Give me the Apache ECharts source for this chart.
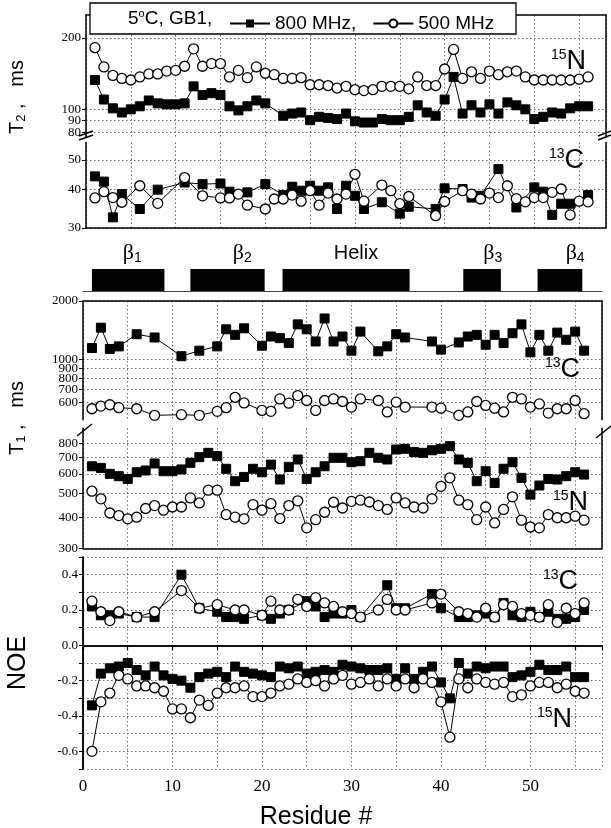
<!DOCTYPE html>
<html><head><meta charset="utf-8">
<script src="https://cdn.jsdelivr.net/npm/echarts@6/dist/echarts.min.js"></script>
<style>html,body{margin:0;padding:0;background:#fff}#c{width:611px;height:828px}</style>
</head><body><div id="c"></div>
<script>
// ---------- data ----------
const residues = [1,2,3,4,5,6,7,8,9,10,11,12,13,14,15,16,17,18,19,20,21,22,23,24,25,26,27,28,29,30,31,32,33,34,35,36,37,38,39,40,41,42,43,44,45,46,47,48,49,50,51,52,53,54,55,56];
const seriesNames = ['800 MHz', '500 MHz'];

// T2 (ms), 15N
const t2N800 = [133,110,101,97,100,103,109,106,105,105,106,125,115,117,115,103,99,103,109,106,null,94,96,97,90,93,92,91,96,89,88,88,91,90,90,93,104,97,94,110,137,96,104,97,105,96,107,104,100,91,93,97,96,101,103,103];
const t2N500 = [182,151,139,135,133,137,141,141,145,146,152,180,152,156,156,137,146,136,151,142,140,135,135,136,127,127,126,123,125,121,120,121,125,125,125,122,137,126,126,148,179,135,144,135,145,140,144,145,137,133,133,133,133,133,134,137];
// T2 (ms), 13C
const t2C800 = [44.2,42.5,32.5,38.7,null,34.6,null,40,null,null,42.2,null,41.7,null,41.9,39.4,null,39.2,null,41.7,null,38.4,40.9,39.7,41.2,39.7,40.7,34.6,41.2,38.2,34.6,null,36.4,null,33.4,35.2,null,null,34.6,40.4,null,40.2,37.7,38.2,null,46.7,null,35.0,null,40.7,39.4,33.1,36,36,null,38.4];
const t2C500 = [37.6,39.4,37.7,36.4,null,41.2,null,36.1,null,null,43.8,null,38.2,null,37.6,37.6,38.7,35.6,null,34.6,37.3,37.3,38.4,36.7,39.7,35.6,39.0,37.3,38.7,44.9,36.7,null,41.4,39.7,36,38.0,null,null,32.9,36.6,null,39.7,38.7,37.3,39.0,37.7,41.2,37.4,36.5,37.7,37.7,39.2,40.2,33.1,36.7,36.5];
// T1 (ms), 13C
const t1C800 = [1146,1458,1133,1168,null,1349,null,1298,null,null,1040,null,1110,null,1168,1430,1339,1447,null,1177,1313,1288,1215,1516,1430,1238,1626,1238,1313,1110,1392,null,1102,1168,1349,1298,null,null,1238,1124,null,1224,1313,1339,1191,1339,1215,1365,1516,1089,1339,1110,1375,1263,1392,1110];
const t1C500 = [558,576,585,565,null,558,null,516,null,null,520,null,516,null,541,565,639,598,null,547,541,627,596,652,615,547,615,627,608,569,627,null,615,537,603,569,null,null,569,562,null,516,537,608,580,562,537,639,627,569,591,530,558,558,615,526];
// T1 (ms), 15N
const t1N800 = [645,635,601,588,573,610,620,662,616,616,626,666,702,731,709,630,561,584,630,610,655,570,641,687,573,610,645,698,698,670,676,731,698,687,754,759,736,731,749,759,778,687,666,561,616,552,630,670,579,495,539,573,570,588,610,597];
const t1N500 = [511,476,417,407,395,401,435,447,428,441,441,480,458,516,516,411,401,395,451,428,455,396,447,467,363,392,420,461,437,465,470,462,447,431,480,458,441,437,476,535,579,470,451,392,441,380,431,485,390,366,363,411,399,399,405,390];
// NOE, 13C
const noeC800 = [0.22,0.17,0.17,0.18,null,0.16,null,0.16,null,null,0.40,null,0.21,null,0.19,0.16,0.16,0.15,null,0.17,0.15,0.18,0.20,null,0.25,0.22,0.16,0.18,0.18,0.20,0.16,null,null,0.34,0.21,0.21,null,null,0.29,0.21,null,0.16,0.16,0.17,0.18,0.16,0.24,0.17,0.16,0.19,0.16,0.19,0.15,0.15,0.16,0.20];
const noeC500 = [0.25,0.19,0.14,0.19,null,0.16,null,0.19,null,null,0.31,null,0.21,null,0.23,null,0.20,0.20,null,0.17,0.25,0.20,0.20,0.26,0.22,0.27,0.24,0.22,0.19,0.18,0.16,null,0.20,0.26,0.20,0.20,null,null,0.24,0.29,null,0.19,0.18,0.16,0.21,0.16,0.23,0.22,0.18,0.17,0.16,0.23,0.13,0.21,0.18,0.24];
// NOE, 15N
const noeN800 = [-0.34,-0.16,-0.13,-0.12,-0.10,-0.14,-0.17,-0.12,-0.17,-0.19,-0.20,-0.24,-0.18,-0.16,-0.15,-0.18,-0.12,-0.15,-0.16,-0.17,-0.18,-0.12,-0.13,-0.12,-0.16,-0.15,-0.14,-0.15,-0.11,-0.12,-0.13,-0.14,-0.14,-0.13,-0.19,-0.13,-0.19,-0.15,-0.12,-0.21,-0.30,-0.10,-0.16,-0.12,-0.13,-0.12,-0.12,-0.18,-0.17,-0.15,-0.11,-0.14,-0.14,-0.12,-0.18,-0.18];
const noeN500 = [-0.60,-0.32,-0.27,-0.17,-0.19,-0.23,-0.23,-0.24,-0.26,-0.36,-0.36,-0.41,-0.31,-0.34,-0.27,-0.24,-0.24,-0.23,-0.29,-0.29,-0.27,-0.23,-0.22,-0.19,-0.21,-0.20,-0.23,-0.19,-0.17,-0.22,-0.21,-0.19,-0.23,-0.19,-0.23,-0.19,-0.24,-0.19,-0.21,-0.32,-0.52,-0.19,-0.24,-0.19,-0.21,-0.22,-0.21,-0.29,-0.28,-0.23,-0.21,-0.21,-0.24,-0.22,-0.26,-0.27];

// secondary structure
const ssNames = ['β1','β2','Helix','β3','β4'];
const ssStart = [1.0, 12.0, 22.3, 42.5, 50.8];
const ssEnd   = [9.1, 20.3, 36.5, 46.7, 55.8];
const ssLabelAt = [5.5, 17.8, 30.5, 45.8, 55.0];

// tick labels (label lists ordered so ECharts' min/max overlap check never drops one)
const t2UpperTicks = [80, 90, 100, 200];
const t2UpperLabels = [90, 200, 100, 80];
const t2LowerTicks = [30, 40, 50];
const t1UpperTicks = [600, 700, 800, 900, 1000, 2000];
const t1LowerTicks = [300, 400, 500, 600, 700, 800];
const xTickLabels = [0, 10, 20, 30, 40, 50];

// ---------- helpers ----------
const SANS = 'Liberation Sans, Arial, sans-serif';
const SERIF = 'Liberation Serif, Times New Roman, serif';
const frame = {show: true, lineStyle: {color: '#000', width: 1.5}};
const dots = {show: true, lineStyle: {color: '#6a6a6a', type: [1.5, 2.5], width: 1}};
const off = {show: false};

function pts(arr) {
  return residues.map((r, i) => [r, arr[i]]).filter(p => p[1] !== null && p[1] !== undefined);
}

function xAx(gi, pos, opt) {
  return Object.assign({type: 'value', gridIndex: gi, min: 0, max: 58, interval: 5, position: pos,
    axisLine: frame, axisTick: off, axisLabel: off, splitLine: off}, opt || {});
}
function yLog(gi, min, max, ticks, labels) {
  return {type: 'log', logBase: 10, gridIndex: gi, min: min, max: max, position: 'left',
    axisLine: frame,
    axisTick: {show: true, length: 4, customValues: ticks, lineStyle: {color: '#000', width: 1}},
    axisLabel: {show: true, customValues: labels || ticks, fontFamily: SERIF, fontSize: 13, color: '#000', margin: 5,
      showMinLabel: true, showMaxLabel: true, hideOverlap: false, formatter: v => String(Math.round(v))},
    splitLine: dots};
}
function yRight(base) {
  return {type: base.type, logBase: 10, gridIndex: base.gridIndex, min: base.min, max: base.max, position: 'right',
    axisLine: frame, axisTick: off, axisLabel: off, splitLine: off};
}

const grids = [
  {left: 86, width: 520, top: 15, height: 122.6},   // 0 T2 15N
  {left: 86, width: 520, top: 142.5, height: 85.5}, // 1 T2 13C
  {left: 83, width: 519, top: 269, height: 22},     // 2 secondary structure
  {left: 83, width: 519, top: 301, height: 118.7},  // 3 T1 13C
  {left: 83, width: 519, top: 428.2, height: 120.1},// 4 T1 15N
  {left: 83, width: 519, top: 557, height: 212}     // 5 NOE
];

const xAxes = [
  xAx(0, 'top', {splitLine: dots}),
  xAx(1, 'bottom', {splitLine: dots}),
  xAx(2, 'bottom', {axisLine: {show: true, lineStyle: {color: '#444', width: 1}}}),
  xAx(3, 'top', {splitLine: dots}),
  xAx(4, 'bottom', {splitLine: dots}),
  xAx(5, 'bottom', {splitLine: dots,
    axisTick: {show: true, length: 5, lineStyle: {color: '#000', width: 1.2}},
    axisLabel: {show: true, fontFamily: SERIF, fontSize: 17, color: '#000', margin: 9,
      formatter: v => xTickLabels.indexOf(v) >= 0 ? String(v) : ''}}),
  xAx(5, 'top', {})
];

const yA0 = yLog(0, 76, 250, t2UpperTicks, t2UpperLabels);
const yA2 = yLog(1, 30, 57, t2LowerTicks);
const yA5 = yLog(3, 490, 2000, t1UpperTicks);
const yA7 = yLog(4, 300, 920, t1LowerTicks);
const yA9 = {type: 'value', gridIndex: 5, min: -0.7, max: 0.5, interval: 0.1, position: 'left',
  axisLine: frame,
  axisTick: {show: true, length: 4, lineStyle: {color: '#000', width: 1}},
  axisLabel: {show: true, fontFamily: SERIF, fontSize: 13, color: '#000', margin: 5,
    formatter: v => { const k = Math.round(v * 10); if (k % 2 !== 0) return ''; return k === 0 ? '0.0' : (k / 10).toFixed(1); }},
  splitLine: dots};
const yAxes = [
  yA0, yRight(yA0),
  yA2, yRight(yA2),
  {type: 'value', gridIndex: 2, min: 0, max: 1, show: false},
  yA5, yRight(yA5),
  yA7, yRight(yA7),
  yA9, Object.assign(yRight(yA9), {type: 'value'})
];

function lineSeries(name, arr, xi, yi) {
  const sq = name === seriesNames[0];
  return {
    type: 'line', name: name, xAxisIndex: xi, yAxisIndex: yi, data: pts(arr),
    symbol: sq ? 'rect' : 'circle', symbolSize: sq ? 9 : 10, showSymbol: true,
    lineStyle: {color: '#000', width: 1},
    itemStyle: sq ? {color: '#000', borderColor: '#000'} : {color: '#fff', borderColor: '#000', borderWidth: 1.3},
    z: sq ? 3 : 4, silent: true, animation: false
  };
}

const series = [
  lineSeries(seriesNames[0], t2N800, 0, 0), lineSeries(seriesNames[1], t2N500, 0, 0),
  lineSeries(seriesNames[0], t2C800, 1, 2), lineSeries(seriesNames[1], t2C500, 1, 2),
  lineSeries(seriesNames[0], t1C800, 3, 5), lineSeries(seriesNames[1], t1C500, 3, 5),
  lineSeries(seriesNames[0], t1N800, 4, 7), lineSeries(seriesNames[1], t1N500, 4, 7),
  lineSeries(seriesNames[0], noeC800, 5, 9), lineSeries(seriesNames[1], noeC500, 5, 9),
  lineSeries(seriesNames[0], noeN800, 5, 9), lineSeries(seriesNames[1], noeN500, 5, 9),
  {
    type: 'custom', xAxisIndex: 2, yAxisIndex: 4, silent: true,
    data: ssStart.map((s, i) => [s, ssEnd[i]]),
    encode: {x: [0, 1]},
    renderItem: (params, api) => {
      const a = api.coord([api.value(0), 1]);
      const b = api.coord([api.value(1), 0]);
      return {type: 'rect', shape: {x: a[0], y: a[1], width: b[0] - a[0], height: b[1] - a[1]}, style: {fill: '#000'}};
    }
  },
  {
    type: 'custom', xAxisIndex: 2, yAxisIndex: 4, silent: true,
    data: ssLabelAt.map((x, i) => [x, 1, i]),
    encode: {x: 0},
    renderItem: (params, api) => {
      const p = api.coord([api.value(0), api.value(1)]);
      const name = ssNames[api.value(2)];
      const txt = name === 'Helix' ? '{h|Helix}' : '{b|β}{s|' + name.slice(1) + '}';
      return {type: 'text', x: p[0], y: p[1] - 16,
        style: {text: txt, align: 'center', verticalAlign: 'middle', textAlign: 'center', textVerticalAlign: 'middle',
          rich: {h: {fontFamily: SANS, fontSize: 20, color: '#000'},
                 b: {fontFamily: SERIF, fontSize: 22, color: '#000'},
                 s: {fontFamily: SANS, fontSize: 14, color: '#000', verticalAlign: 'bottom', padding: [10, 0, 0, 0]}}}};
    }
  }
];

function iso(sup, big, right, cy) {
  return {type: 'text', x: right, y: cy, z: 30,
    style: {text: '{s|' + sup + '}{b|' + big + '}', align: 'right', verticalAlign: 'middle', textAlign: 'right', textVerticalAlign: 'middle',
      rich: {s: {fontFamily: SANS, fontSize: 14, color: '#000', verticalAlign: 'top', padding: [0, 0, 12, 0]},
             b: {fontFamily: SANS, fontSize: 27, color: '#000'}}}};
}
function slash(x1, y1, x2, y2) {
  return {type: 'line', shape: {x1: x1, y1: y1, x2: x2, y2: y2}, style: {stroke: '#000', lineWidth: 1.5}, z: 30};
}
function vtitle(txt, cx, cy, size) {
  return {type: 'text', x: cx, y: cy, rotation: Math.PI / 2, z: 30,
    style: {text: txt, align: 'center', verticalAlign: 'middle', textAlign: 'center', textVerticalAlign: 'middle',
      rich: {t: {fontFamily: SANS, fontSize: size, color: '#000'},
             u: {fontFamily: SANS, fontSize: 13, color: '#000', verticalAlign: 'bottom', padding: [8, 0, 0, 0]}}}};
}

const graphic = [
  {type: 'rect', shape: {x: 90, y: 3, width: 426, height: 31}, style: {fill: '#fff', stroke: '#000', lineWidth: 1.3}, z: 10},
  {type: 'text', x: 128, y: 19, z: 30,
    style: {text: '{t|5}{s|o}{t|C, GB1,}', verticalAlign: 'middle', textVerticalAlign: 'middle',
      rich: {t: {fontFamily: SANS, fontSize: 19, color: '#000'},
             s: {fontFamily: SANS, fontSize: 11, color: '#000', verticalAlign: 'top', padding: [0, 0, 10, 0]}}}},
  vtitle('{t|T}{u|2}{t| ,   ms}', 17, 97, 20),
  vtitle('{t|T}{u|1}{t| ,   ms}', 17, 418, 20),
  vtitle('{t|NOE}', 18, 663, 25),
  {type: 'text', x: 316, y: 817, z: 30,
    style: {text: 'Residue #', font: '25px ' + SANS, fill: '#000', align: 'center', verticalAlign: 'middle', textAlign: 'center', textVerticalAlign: 'middle'}},
  iso('15', 'N', 586, 62),
  iso('13', 'C', 584, 161),
  iso('13', 'C', 580, 370),
  iso('15', 'N', 588, 503),
  iso('13', 'C', 578, 582),
  iso('15', 'N', 572, 720),
  slash(79, 140, 93, 135), slash(79, 136, 93, 131),
  slash(598, 140, 611, 135), slash(598, 136, 611, 131),
  slash(77, 436, 92, 424),
  slash(596, 438, 611, 426)
];

const chart = echarts.init(document.getElementById('c'), null, {renderer: 'canvas'});
chart.setOption({
  animation: false,
  backgroundColor: '#fff',
  grid: grids,
  xAxis: xAxes,
  yAxis: yAxes,
  legend: {data: seriesNames, left: 224, top: 9, z: 40, itemWidth: 40, itemHeight: 10, itemGap: 16,
    formatter: n => n === seriesNames[0] ? n + ',' : n,
    textStyle: {fontFamily: SANS, fontSize: 19, color: '#000'}},
  graphic: graphic,
  series: series
});
</script>
</body></html>
